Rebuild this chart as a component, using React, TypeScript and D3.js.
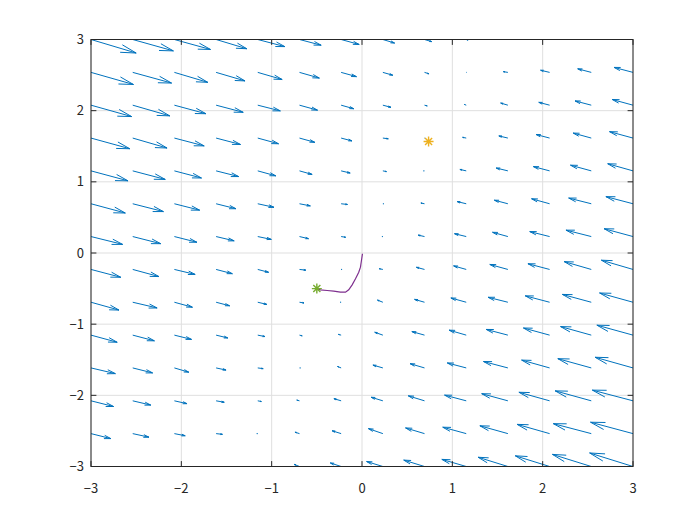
import React from "react";
import * as d3 from "d3";

// Grid of the quiver (linspace(-3,3,14))
const gridX = [-3, -2.538, -2.077, -1.615, -1.154, -0.692, -0.231, 0.231, 0.692, 1.154, 1.615, 2.077, 2.538, 3];
const gridY = [3, 2.538, 2.077, 1.615, 1.154, 0.692, 0.231, -0.231, -0.692, -1.154, -1.615, -2.077, -2.538, -3];

// Vector components (drawn length, data units), one row per gridY value
const uRows = [
  [0.50, 0.45, 0.40, 0.34, 0.30, 0.24, 0.20, 0.13, 0.08, 0.02, -0.04, -0.09, -0.14, -0.19],
  [0.47, 0.43, 0.37, 0.32, 0.27, 0.22, 0.17, 0.11, 0.05, 0.00, -0.05, -0.10, -0.15, -0.21],
  [0.45, 0.41, 0.35, 0.30, 0.25, 0.20, 0.14, 0.09, 0.03, -0.02, -0.08, -0.12, -0.18, -0.23],
  [0.43, 0.38, 0.33, 0.27, 0.23, 0.17, 0.12, 0.06, 0.00, -0.04, -0.10, -0.15, -0.20, -0.26],
  [0.41, 0.36, 0.30, 0.25, 0.20, 0.14, 0.10, 0.04, -0.01, -0.07, -0.13, -0.18, -0.23, -0.28],
  [0.38, 0.34, 0.28, 0.22, 0.18, 0.12, 0.07, 0.01, -0.04, -0.10, -0.15, -0.20, -0.25, -0.30],
  [0.35, 0.31, 0.25, 0.20, 0.15, 0.10, 0.05, -0.01, -0.07, -0.13, -0.17, -0.22, -0.28, -0.32],
  [0.33, 0.29, 0.23, 0.18, 0.12, 0.07, 0.01, -0.04, -0.09, -0.14, -0.20, -0.24, -0.30, -0.35],
  [0.31, 0.27, 0.20, 0.15, 0.10, 0.05, -0.01, -0.06, -0.11, -0.17, -0.22, -0.27, -0.32, -0.37],
  [0.29, 0.24, 0.19, 0.13, 0.08, 0.03, -0.03, -0.09, -0.14, -0.19, -0.24, -0.29, -0.34, -0.40],
  [0.27, 0.22, 0.16, 0.11, 0.06, 0.01, -0.04, -0.11, -0.16, -0.21, -0.27, -0.31, -0.37, -0.42],
  [0.25, 0.20, 0.14, 0.09, 0.04, -0.03, -0.08, -0.13, -0.18, -0.24, -0.29, -0.34, -0.40, -0.45],
  [0.22, 0.18, 0.12, 0.07, -0.01, -0.05, -0.10, -0.16, -0.21, -0.26, -0.31, -0.36, -0.42, -0.47],
  [0.20, 0.15, 0.10, 0.05, -0.01, -0.06, -0.12, -0.18, -0.23, -0.27, -0.33, -0.38, -0.43, -0.48],
];
const vRows = [
  [-0.19, -0.16, -0.14, -0.13, -0.10, -0.08, -0.07, -0.05, -0.03, -0.01, 0.01, 0.03, 0.05, 0.07],
  [-0.17, -0.15, -0.14, -0.12, -0.10, -0.08, -0.06, -0.04, -0.02, 0.00, 0.01, 0.03, 0.05, 0.07],
  [-0.16, -0.15, -0.12, -0.10, -0.08, -0.07, -0.05, -0.03, -0.01, 0.01, 0.03, 0.04, 0.06, 0.08],
  [-0.15, -0.14, -0.11, -0.09, -0.08, -0.06, -0.04, -0.01, 0.00, 0.01, 0.03, 0.05, 0.07, 0.09],
  [-0.14, -0.12, -0.10, -0.08, -0.07, -0.05, -0.03, -0.01, 0.00, 0.02, 0.04, 0.06, 0.08, 0.10],
  [-0.13, -0.11, -0.09, -0.07, -0.05, -0.03, -0.01, 0.00, 0.01, 0.03, 0.05, 0.07, 0.08, 0.10],
  [-0.11, -0.10, -0.08, -0.06, -0.04, -0.03, -0.01, 0.00, 0.02, 0.04, 0.06, 0.07, 0.09, 0.11],
  [-0.11, -0.10, -0.07, -0.06, -0.04, -0.01, 0.00, 0.01, 0.03, 0.05, 0.07, 0.08, 0.11, 0.13],
  [-0.11, -0.08, -0.07, -0.05, -0.03, -0.01, 0.00, 0.03, 0.04, 0.06, 0.07, 0.09, 0.11, 0.13],
  [-0.10, -0.08, -0.06, -0.04, -0.02, -0.01, 0.01, 0.04, 0.05, 0.07, 0.08, 0.10, 0.12, 0.14],
  [-0.08, -0.07, -0.06, -0.03, -0.01, 0.00, 0.02, 0.04, 0.06, 0.07, 0.09, 0.11, 0.13, 0.15],
  [-0.08, -0.06, -0.04, -0.02, -0.01, 0.01, 0.03, 0.05, 0.07, 0.08, 0.10, 0.12, 0.14, 0.15],
  [-0.07, -0.05, -0.03, -0.01, 0.00, 0.02, 0.04, 0.07, 0.08, 0.09, 0.11, 0.13, 0.14, 0.16],
  [-0.06, -0.04, -0.03, -0.01, 0.00, 0.03, 0.05, 0.07, 0.09, 0.10, 0.13, 0.15, 0.17, 0.19],
];

// Trajectory from the start point to the origin
const pathX = [-0.497, -0.46, -0.386, -0.313, -0.239, -0.183, -0.147, -0.109, -0.072, -0.036, -0.017, -0.006, 0.005];
const pathY = [-0.503, -0.517, -0.527, -0.537, -0.551, -0.551, -0.517, -0.447, -0.362, -0.27, -0.199, -0.105, -0.011];

const startPoint = [-0.5, -0.5];
const equilibrium = [0.737, 1.567];

const ticks = [-3, -2, -1, 0, 1, 2, 3];

const W = 700;
const H = 525;
const L = 91, R = 633, T = 39.5, B = 466.5;

const fmt = (t: number) => (t < 0 ? "\u2212" + Math.abs(t) : String(t));

function asterisk(cx: number, cy: number, r: number) {
  const p = d3.path();
  for (let k = 0; k < 4; k++) {
    const a = (k * Math.PI) / 4;
    const dx = r * Math.cos(a), dy = r * Math.sin(a);
    p.moveTo(cx - dx, cy - dy);
    p.lineTo(cx + dx, cy + dy);
  }
  return p.toString();
}

export default function App() {
  const x = d3.scaleLinear().domain([-3, 3]).range([L, R]);
  const y = d3.scaleLinear().domain([-3, 3]).range([B, T]);

  const arrows: string[] = [];
  gridY.forEach((gy, r) => {
    gridX.forEach((gx, c) => {
      const u = uRows[r][c];
      const v = vRows[r][c];
      const x0 = x(gx), y0 = y(gy);
      const x1 = x(gx + u), y1 = y(gy + v);
      const dx = x1 - x0, dy = y1 - y0;
      const len = Math.hypot(dx, dy);
      const p = d3.path();
      if (len < 0.3) {
        p.moveTo(x0, y0);
        p.lineTo(x0 + 0.6, y0);
        arrows.push(p.toString());
        return;
      }
      const ux = dx / len, uy = dy / len;
      const hl = 0.33 * len, hw = 0.33 * 0.25 * len;
      p.moveTo(x0, y0);
      p.lineTo(x1, y1);
      p.moveTo(x1 - hl * ux - hw * uy, y1 - hl * uy + hw * ux);
      p.lineTo(x1, y1);
      p.lineTo(x1 - hl * ux + hw * uy, y1 - hl * uy - hw * ux);
      arrows.push(p.toString());
    });
  });

  const line = d3
    .line<number>()
    .x((_, i) => x(pathX[i]))
    .y((_, i) => y(pathY[i]));

  const tickLen = 5.4;
  const axisColor = "#262626";
  const font = "'Noto Sans CJK JP', 'Noto Sans', sans-serif";

  return (
    <svg width={W} height={H} style={{ position: "absolute", left: 0, top: 0, background: "#fff" }}>
      <defs>
        <clipPath id="plotClip">
          <rect x={L} y={T} width={R - L} height={B - T} />
        </clipPath>
      </defs>
      <rect x={0} y={0} width={W} height={H} fill="#fff" />
      {/* grid */}
      <g stroke="#dfdfdf" strokeWidth={1}>
        {ticks.map((t) => (
          <line key={"gx" + t} x1={x(t)} x2={x(t)} y1={T} y2={B} />
        ))}
        {ticks.map((t) => (
          <line key={"gy" + t} x1={L} x2={R} y1={y(t)} y2={y(t)} />
        ))}
      </g>
      {/* quiver */}
      <g clipPath="url(#plotClip)" fill="none" stroke="#0072BD" strokeWidth={1}>
        {arrows.map((d, i) => (
          <path key={i} d={d} />
        ))}
        <path d={line(pathX) || ""} stroke="#7E2F8E" strokeWidth={1.2} />
      </g>
      {/* markers */}
      <path d={asterisk(x(startPoint[0]), y(startPoint[1]), 5)} stroke="#77AC30" strokeWidth={1.4} fill="none" />
      <path d={asterisk(x(equilibrium[0]), y(equilibrium[1]), 5)} stroke="#EDB120" strokeWidth={1.4} fill="none" />
      {/* axes box */}
      <rect x={L} y={T} width={R - L} height={B - T} fill="none" stroke={axisColor} strokeWidth={1} />
      <g stroke={axisColor} strokeWidth={1}>
        {ticks.map((t) => (
          <g key={"t" + t}>
            <line x1={x(t)} x2={x(t)} y1={B} y2={B - tickLen} />
            <line x1={x(t)} x2={x(t)} y1={T} y2={T + tickLen} />
            <line x1={L} x2={L + tickLen} y1={y(t)} y2={y(t)} />
            <line x1={R} x2={R - tickLen} y1={y(t)} y2={y(t)} />
          </g>
        ))}
      </g>
      <g fontFamily={font} fontSize={13} fill={axisColor}>
        {ticks.map((t) => (
          <text key={"xl" + t} x={x(t)} y={B + 26} textAnchor="middle">
            {fmt(t)}
          </text>
        ))}
        {ticks.map((t) => (
          <text key={"yl" + t} x={L - 7} y={y(t)} dy="0.35em" textAnchor="end">
            {fmt(t)}
          </text>
        ))}
      </g>
    </svg>
  );
}
